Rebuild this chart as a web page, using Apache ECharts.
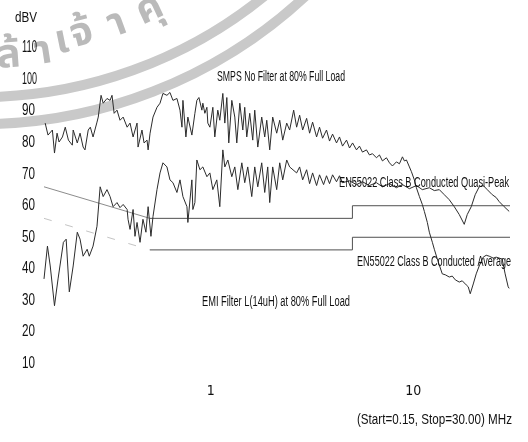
<!DOCTYPE html>
<html>
<head>
<meta charset="utf-8">
<script src="https://cdn.jsdelivr.net/npm/echarts@6.0.0/dist/echarts.min.js"></script>
<style>
  html, body { margin: 0; padding: 0; background: #fff; }
  #chart { width: 528px; height: 442px; }
</style>
</head>
<body>
<div id="chart"></div>
<script>
// Conducted emission scan, 0.15 - 30 MHz (frequency in MHz, level in dBµV)

// SMPS without input filter, 80% full load
const smpsFreq = [
  0.152, 0.157, 0.165, 0.169, 0.174, 0.178, 0.185, 0.191, 0.198, 0.207,
  0.209, 0.219, 0.226, 0.234, 0.239, 0.248, 0.254, 0.262, 0.274, 0.278,
  0.287, 0.294, 0.307, 0.318, 0.325, 0.333, 0.344, 0.356, 0.369, 0.386,
  0.399, 0.413, 0.432, 0.437, 0.457, 0.468, 0.484, 0.490, 0.501, 0.518,
  0.542, 0.561, 0.580, 0.607, 0.628, 0.650, 0.680, 0.704, 0.720, 0.728,
  0.753, 0.770, 0.806, 0.815, 0.834, 0.853, 0.873, 0.903, 0.913, 0.934,
  0.956, 0.966, 0.989, 1.023, 1.046, 1.082, 1.107, 1.146, 1.172, 1.199,
  1.226, 1.269, 1.313, 1.343, 1.390, 1.438, 1.470, 1.504, 1.556, 1.610,
  1.647, 1.705, 1.783, 1.845, 1.888, 1.953, 2.020, 2.114, 2.188, 2.264,
  2.369, 2.449, 2.564, 2.652, 2.744, 2.840, 2.971, 3.073, 3.180, 3.327,
  3.440, 3.562, 3.725, 3.855, 3.990, 4.174, 4.318, 4.468, 4.677, 4.838,
  5.010, 5.238, 5.418, 5.605, 5.866, 6.070, 6.281, 6.571, 6.800, 7.035,
  7.362, 7.619, 7.883, 8.245, 8.534, 8.832, 9.032, 9.244, 9.560, 9.779,
  10.11, 10.35, 10.71, 11.07, 11.33, 11.72, 11.99, 12.41, 12.69, 13.13,
  13.43, 13.89, 14.38, 15.04, 15.56, 16.11, 16.85, 17.43, 18.24, 18.66,
  19.09, 19.76, 20.43, 21.14, 22.13, 22.89, 23.69, 24.79, 25.64, 26.53,
  27.44, 28.39, 29.38, 29.72
];
const smpsLevel = [
  86.2, 82.4, 84.0, 76.7, 83.0, 80.2, 81.8, 84.9, 80.8, 79.2,
  84.0, 79.9, 83.0, 78.6, 77.7, 84.0, 84.9, 81.8, 86.5, 88.1,
  95.0, 92.5, 94.0, 93.4, 95.0, 89.3, 90.3, 87.1, 88.1, 84.9,
  86.2, 81.8, 86.2, 78.6, 84.0, 79.9, 80.8, 77.7, 83.0, 88.1,
  91.2, 92.5, 95.6, 95.0, 95.9, 93.4, 94.0, 90.3, 84.9, 93.4,
  81.8, 88.1, 82.4, 81.8, 89.3, 93.4, 94.3, 90.3, 92.5, 89.3,
  91.2, 86.2, 84.9, 91.2, 81.8, 90.3, 87.1, 95.6, 86.2, 94.3,
  79.9, 93.4, 88.1, 79.9, 92.5, 84.0, 91.2, 81.8, 89.3, 80.8,
  90.3, 78.6, 88.1, 81.8, 87.1, 77.7, 88.1, 83.0, 87.1, 80.8,
  86.2, 84.0, 90.3, 84.9, 88.7, 84.0, 87.7, 83.0, 86.5, 81.8,
  84.9, 81.4, 84.0, 80.5, 82.7, 79.9, 81.8, 78.9, 80.8, 78.3,
  79.9, 77.7, 78.9, 77.0, 77.7, 76.1, 76.5, 75.2, 76.1, 74.2,
  75.2, 73.6, 72.6, 73.9, 73.3, 75.5, 74.2, 74.5, 72.3, 70.8,
  68.2, 65.7, 62.9, 60.4, 58.2, 54.7, 51.6, 48.4, 46.2, 43.1,
  41.2, 38.4, 38.1, 37.4, 37.7, 36.5, 35.8, 36.2, 34.9, 34.3,
  32.1, 35.2, 38.4, 40.9, 43.7, 44.3, 44.0, 43.4, 43.7, 43.4,
  43.1, 38.4, 34.3, 33.8
];

// EMI filter L (14uH), 80% full load
const filterFreq = [
  0.150, 0.156, 0.161, 0.169, 0.176, 0.187, 0.193, 0.200, 0.209, 0.219,
  0.226, 0.234, 0.245, 0.251, 0.262, 0.274, 0.284, 0.294, 0.307, 0.318,
  0.329, 0.344, 0.356, 0.369, 0.386, 0.390, 0.399, 0.413, 0.422, 0.432,
  0.447, 0.462, 0.478, 0.490, 0.506, 0.518, 0.542, 0.561, 0.580, 0.607,
  0.628, 0.650, 0.680, 0.704, 0.728, 0.762, 0.770, 0.806, 0.815, 0.834,
  0.853, 0.883, 0.913, 0.956, 0.989, 1.023, 1.070, 1.107, 1.146, 1.172,
  1.213, 1.269, 1.313, 1.359, 1.422, 1.470, 1.521, 1.592, 1.647, 1.705,
  1.783, 1.845, 1.909, 1.953, 2.020, 2.114, 2.188, 2.264, 2.369, 2.449,
  2.652, 2.744, 2.840, 2.971, 3.073, 3.180, 3.327, 3.440, 3.603, 3.725,
  3.855, 3.990, 4.174, 4.318, 4.468, 4.838, 5.238, 5.605, 6.070, 6.571,
  7.035, 7.619, 8.245, 8.832, 9.560, 10.35, 11.07, 11.99, 12.69, 13.43,
  14.21, 15.04, 15.92, 16.85, 17.83, 18.45, 19.31, 20.20, 21.14, 22.13,
  23.16, 24.51, 25.64, 26.53, 28.07, 29.72
];
const filterLevel = [
  36.8, 47.2, 40.9, 28.3, 36.8, 48.4, 49.4, 32.7, 40.9, 51.6,
  49.4, 44.0, 46.2, 44.0, 47.2, 53.5, 66.0, 62.9, 65.1, 62.9,
  59.7, 61.0, 59.4, 60.4, 58.8, 55.7, 52.5, 58.8, 50.3, 54.7,
  48.4, 55.7, 51.6, 59.7, 50.3, 56.6, 65.1, 70.4, 73.6, 72.3,
  68.2, 67.3, 64.2, 68.2, 62.9, 59.7, 54.7, 68.2, 58.8, 61.0,
  74.5, 71.4, 72.3, 69.2, 70.4, 65.1, 68.2, 59.7, 77.7, 72.3,
  74.5, 69.2, 72.3, 65.1, 73.6, 67.3, 72.3, 62.9, 72.3, 66.0,
  73.6, 64.2, 72.3, 61.0, 72.3, 65.1, 73.6, 68.2, 74.5, 72.3,
  70.4, 72.3, 68.2, 71.4, 67.0, 70.4, 66.4, 69.8, 66.7, 69.5,
  67.0, 69.8, 67.6, 69.5, 67.3, 67.9, 66.7, 67.6, 66.4, 67.3,
  66.0, 67.0, 65.7, 66.7, 65.4, 66.4, 65.1, 65.7, 64.8, 65.1,
  63.5, 61.9, 59.7, 57.2, 54.1, 57.2, 59.7, 63.5, 66.0, 66.4,
  65.1, 63.5, 62.6, 61.3, 59.7, 58.2
];

// EN55022 Class B conducted limits
const qpFreq = [0.15, 0.5, 5, 5, 30];
const qpLevel = [66, 56, 56, 60, 60];
const avgFreq = [0.15, 0.5, 5, 5, 30];
const avgLevel = [56, 46, 46, 50, 50];

// Axis ticks
const yTickValues = [10, 20, 30, 40, 50, 60, 70, 80, 90, 100, 110];
const xTickValues = [1, 10];

const zip = (xs, ys) => xs.map((x, i) => [x, ys[i]]);

const NARROW = "'Liberation Sans Narrow', 'DejaVu Sans Condensed', 'Liberation Sans', sans-serif";
const LABEL_FONT = "'Liberation Sans', Arial, sans-serif";
const INK = '#111111';

// Squeeze a text so it spans x0..x1, vertically centred on y.
const measureCtx = document.createElement('canvas').getContext('2d');
function squeezed(text, x0, x1, y, size) {
  const font = size + 'px ' + LABEL_FONT;
  measureCtx.font = font;
  const w = measureCtx.measureText(text).width;
  return {
    type: 'text', x: x0, y: y, scaleX: (x1 - x0) / w, z: 20,
    style: { text: text, font: font, fill: INK, align: 'left', verticalAlign: 'middle' }
  };
}

// Faint seal stamp in the top-left corner
const sealCx = -20, sealCy = -354;
const sealChars = ['ล้', 'า', 'เ', 'จ้', 'า', 'คุ'];
const sealAngles = [4.0, 8.8, 11.7, 14.7, 19.9, 25.0];
const sealRadii = [414, 414, 407, 404, 405, 404];
const seal = [
  { type: 'arc', z: 0, shape: { cx: sealCx, cy: sealCy, r: 451, startAngle: 0.8, endAngle: 1.65 },
    style: { stroke: '#c9c9c9', lineWidth: 10, fill: null } },
  { type: 'arc', z: 0, shape: { cx: sealCx, cy: sealCy, r: 478, startAngle: 0.75, endAngle: 1.65 },
    style: { stroke: '#c9c9c9', lineWidth: 10, fill: null } }
].concat(sealChars.map((ch, i) => {
  const a = sealAngles[i] * Math.PI / 180;
  return {
    type: 'text', z: 0,
    x: sealCx + sealRadii[i] * Math.sin(a), y: sealCy + sealRadii[i] * Math.cos(a),
    rotation: a,
    style: { text: ch, font: "bold 40px 'Noto Sans Thai', 'Noto Sans', 'DejaVu Sans', sans-serif",
             fill: '#bababa', align: 'center', verticalAlign: 'middle' }
  };
}));

const isDecade = v => Math.abs(Math.log10(v) - Math.round(Math.log10(v))) < 1e-6;

const chart = echarts.init(document.getElementById('chart'), null, { renderer: 'canvas' });
chart.setOption({
  animation: false,
  backgroundColor: '#ffffff',
  grid: { left: 44, right: 18, top: 48, bottom: 47 },
  xAxis: {
    type: 'log', logBase: 10, min: 0.15, max: 30,
    offset: -19,
    axisLine: { show: false }, axisTick: { show: false },
    splitLine: { show: false }, minorTick: { show: false },
    axisLabel: {
      margin: 8, fontSize: 14, color: INK, fontFamily: NARROW,
      showMinLabel: false, showMaxLabel: false,
      formatter: v => {
        if (!isDecade(v)) return '';
        const r = Math.round(v);
        return xTickValues.indexOf(r) >= 0 ? String(r) : '';
      }
    }
  },
  yAxis: {
    type: 'value', min: 0, max: 110, interval: 10,
    axisLine: { show: false }, axisTick: { show: false }, splitLine: { show: false },
    axisLabel: { show: false }
  },
  series: [
    { name: 'QP slope', type: 'line', data: zip(qpFreq.slice(0, 2), qpLevel.slice(0, 2)),
      showSymbol: false, silent: true, z: 2, lineStyle: { color: '#8c8c8c', width: 1 } },
    { name: 'QP limit', type: 'line', data: zip(qpFreq.slice(1), qpLevel.slice(1)),
      showSymbol: false, silent: true, z: 2, lineStyle: { color: '#505050', width: 1 } },
    { name: 'AV slope', type: 'line', data: zip(avgFreq.slice(0, 2), avgLevel.slice(0, 2)),
      showSymbol: false, silent: true, z: 2, lineStyle: { color: '#c4c4c4', width: 1, type: [8, 14] } },
    { name: 'AV limit', type: 'line', data: zip(avgFreq.slice(1), avgLevel.slice(1)),
      showSymbol: false, silent: true, z: 2, lineStyle: { color: '#505050', width: 1 } },
    { name: 'SMPS No Filter', type: 'line', data: zip(smpsFreq, smpsLevel),
      showSymbol: false, silent: true, z: 3, lineStyle: { color: '#2c2c2c', width: 1 } },
    { name: 'EMI Filter', type: 'line', data: zip(filterFreq, filterLevel),
      showSymbol: false, silent: true, z: 3, lineStyle: { color: '#2c2c2c', width: 1 } }
  ]
});

// Condensed level labels placed at the y-axis tick positions
const yLabels = yTickValues.map(v => {
  const y = chart.convertToPixel({ yAxisIndex: 0 }, v);
  const s = String(v);
  return squeezed(s, 22, 22 + (s.length > 2 ? 15 : 13), y, 16);
});

chart.setOption({
  graphic: seal.concat(yLabels, [
    squeezed('dBV', 15, 37, 18, 14),
    squeezed('SMPS No Filter at 80% Full Load', 217, 345, 77, 14),
    squeezed('EN55022 Class B Conducted Quasi-Peak', 339, 509, 183, 14),
    squeezed('EN55022 Class B Conducted Average', 357, 511, 262, 14),
    squeezed('EMI Filter L(14uH) at 80% Full Load', 202, 350, 302, 14),
    squeezed('(Start=0.15, Stop=30.00) MHz', 357, 512, 420, 14)
  ])
});
</script>
</body>
</html>
